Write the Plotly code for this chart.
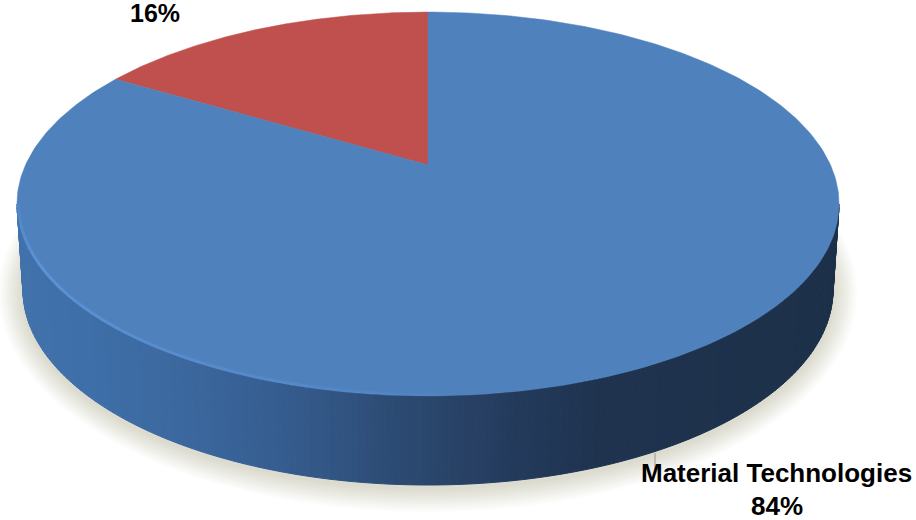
import numpy as np
import plotly.graph_objects as go

# Data
categories = ["", "Material Technologies"]
shares = [16.4, 83.6]
slice_colors = ["#C0504D", "#4F81BD"]

# Scene geometry of the tilted disc, in the page's units
CX = 428.0
APEX_Y = 165.0
WIDTH_A = 402.5
DEPTH_B = 184.0
TILT_K = 0.203
BOT_CY, BOT_RX, BOT_RY = 290.0, 405.0, 195.0
TOP_CY, TOP_RX, TOP_RY = 204.0, 411.0, 192.0

side_stop_x = [17, 100, 200, 300, 400, 460, 520, 600, 838]
side_stop_rgb = [(66, 114, 172), (62, 110, 167), (58, 102, 156), (52, 90, 139),
                 (44, 74, 114), (40, 66, 102), (35, 58, 91), (31, 51, 79), (29, 48, 73)]


def project(theta):
    """Clockwise angle from 12 o'clock on the disc to the picture plane."""
    u, v = np.sin(theta), np.cos(theta)
    d = 1 + TILT_K * v
    return CX + WIDTH_A * u / d, APEX_Y - DEPTH_B * v / d


fig = go.Figure()

# soft shadow under the disc
for off in range(24, 0, -2):
    phi = np.linspace(0, 2 * np.pi, 181)
    fig.add_trace(go.Scatter(
        x=CX + (BOT_RX + off) * np.cos(phi),
        y=BOT_CY + 3 + (BOT_RY + off) * np.sin(phi),
        mode="lines", line=dict(width=0), fill="toself",
        fillcolor="rgba(130,120,105,0.022)", hoverinfo="skip", showlegend=False))

# side wall, shaded from left to right
edges = np.linspace(0, np.pi, 181)
for a, b in zip(edges[:-1], edges[1:]):
    phi = np.linspace(a, b, 4)
    xt = CX + TOP_RX * np.cos(phi)
    yt = TOP_CY + TOP_RY * np.sin(phi)
    xb = CX + BOT_RX * np.cos(phi)
    yb = BOT_CY + BOT_RY * np.sin(phi)
    mx = CX + TOP_RX * np.cos((a + b) / 2)
    rgb = [np.interp(mx, side_stop_x, [c[i] for c in side_stop_rgb]) for i in range(3)]
    col = "rgb({:.0f},{:.0f},{:.0f})".format(*rgb)
    fig.add_trace(go.Scatter(
        x=np.r_[xt, xb[::-1], xt[0]], y=np.r_[yt, yb[::-1], yt[0]],
        mode="lines", line=dict(width=1, color=col), fill="toself", fillcolor=col,
        hoverinfo="skip", showlegend=False))

# slices, driven by the shares
total = sum(shares)
start = -2 * np.pi * shares[0] / total
for name, share, color in zip(categories, shares, slice_colors):
    sweep = 2 * np.pi * share / total
    th = np.linspace(start, start + sweep, 361)
    px, py = project(th)
    xs = np.r_[CX, px, CX]
    ys = np.r_[APEX_Y, py, APEX_Y]
    fig.add_trace(go.Scatter(
        x=xs, y=ys, mode="lines", line=dict(width=0.5, color=color), fill="toself",
        fillcolor=color, name=name or "Other", text=f"{share:.0f}%", hoverinfo="name+text",
        showlegend=False))
    start += sweep

# light bevel along the front-left rim: faint at the far left, fading out at the front
edges = np.linspace(np.pi, np.pi * 0.47, 61)
for i, (a, b) in enumerate(zip(edges[:-1], edges[1:])):
    phi = np.linspace(a, b, 3)
    t = i / 60
    alpha = 0.7 * min(1.0, 0.25 + t * 4) * (1 - t) ** 0.7
    fig.add_trace(go.Scatter(
        x=CX + (TOP_RX - 1.5) * np.cos(phi), y=TOP_CY + (TOP_RY - 1.5) * np.sin(phi),
        mode="lines", line=dict(width=3, color=f"rgba(98,158,230,{alpha:.3f})"),
        hoverinfo="skip", showlegend=False))

# leader line stub
fig.add_shape(type="line", x0=655, x1=655, y0=453, y1=470,
              line=dict(color="#9a9a9a", width=1))

label_font = dict(family="Liberation Sans, Arial", size=26, color="#000000")
fig.add_annotation(x=776.5, y=473, xref="x", yref="y", showarrow=False, font=label_font,
                   text=f"<b>{categories[1]}</b>")
fig.add_annotation(x=776.5, y=506, xref="x", yref="y", showarrow=False, font=label_font,
                   text=f"<b>{shares[1]:.0f}%</b>")
fig.add_annotation(x=155, y=13, xref="x", yref="y", showarrow=False,
                   font=dict(family="Liberation Sans, Arial", size=25, color="#000000"),
                   text=f"<b>{shares[0]:.0f}%</b>")

fig.update_layout(
    width=916, height=520, margin=dict(l=0, r=0, t=0, b=0),
    paper_bgcolor="white", plot_bgcolor="white", showlegend=False,
    xaxis=dict(range=[0, 916], visible=False, fixedrange=True),
    yaxis=dict(range=[520, 0], visible=False, fixedrange=True),
)
fig.write_html("out.html", config=dict(displayModeBar=False),
               post_script="document.body.style.margin='0';document.body.style.overflow='hidden';")
